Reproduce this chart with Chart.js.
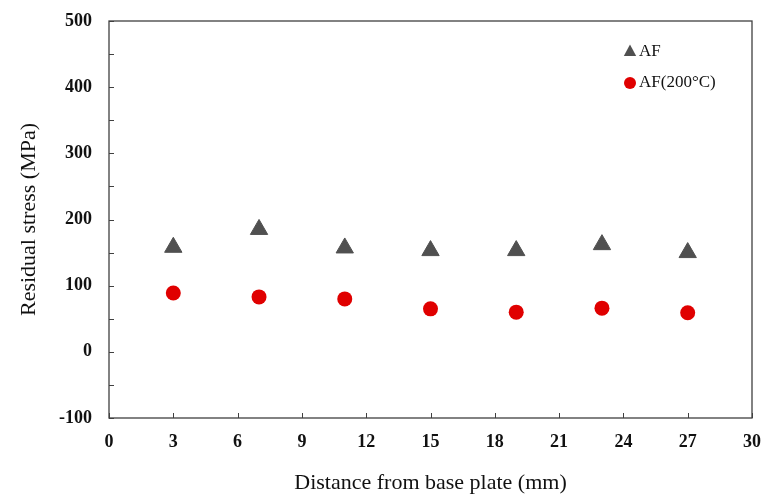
<!DOCTYPE html>
<html>
<head>
<meta charset="utf-8">
<script src="https://cdn.jsdelivr.net/npm/chart.js@4/dist/chart.umd.min.js"></script>
<style>
  html, body { margin: 0; padding: 0; background: #fff; }
  #wrap { width: 765px; height: 496px; position: relative; }
</style>
</head>
<body>
<div id="wrap"><canvas id="c" width="765" height="496"></canvas></div>
<script>
const distances = [3, 7, 11, 15, 19, 23, 27];
const afValues = [158, 185, 157, 153, 153, 162, 150];
const af200Values = [89, 83, 80, 65, 60, 66, 59];
const seriesNames = ['AF', 'AF(200°C)'];
const xTitle = 'Distance from base plate (mm)';
const yTitle = 'Residual stress (MPa)';
const xTicks = [0, 3, 6, 9, 12, 15, 18, 21, 24, 27, 30];
const yTicks = [-100, -50, 0, 50, 100, 150, 200, 250, 300, 350, 400, 450, 500];

const SERIF = '"Liberation Serif", "Times New Roman", serif';
const AXIS = '#404040';

const framePlugin = {
  id: 'frame',
  afterDraw(chart) {
    const { ctx, chartArea: a, scales } = chart;
    ctx.save();
    ctx.strokeStyle = AXIS;
    ctx.lineWidth = 1.3;
    ctx.strokeRect(a.left, a.top, a.right - a.left, a.bottom - a.top);
    ctx.lineWidth = 1;
    ctx.beginPath();
    yTicks.forEach(v => {
      const y = Math.round(scales.y.getPixelForValue(v)) + 0.5;
      ctx.moveTo(a.left, y); ctx.lineTo(a.left + 5, y);
    });
    xTicks.forEach(v => {
      const x = Math.round(scales.x.getPixelForValue(v)) + 0.5;
      ctx.moveTo(x, a.bottom); ctx.lineTo(x, a.bottom - 5);
    });
    ctx.stroke();

    // legend inside plot
    const items = chart.data.datasets;
    const lx = 630, ly0 = 51, gap = 31;
    items.forEach((ds, i) => {
      const y = ly0 + i * gap;
      ctx.fillStyle = ds.backgroundColor;
      ctx.beginPath();
      if (ds.pointStyle === 'triangle') {
        const r = 6.5;
        ctx.moveTo(lx, y - r);
        ctx.lineTo(lx + r * 0.95, y + r * 0.75);
        ctx.lineTo(lx - r * 0.95, y + r * 0.75);
        ctx.closePath();
      } else {
        ctx.arc(lx, y + 1, 6, 0, Math.PI * 2);
      }
      ctx.fill();
      ctx.fillStyle = '#111';
      ctx.font = '17px ' + SERIF;
      ctx.textBaseline = 'middle';
      ctx.textAlign = 'left';
      ctx.fillText(ds.label, lx + 9, y + 1);
    });
    ctx.restore();
  }
};

function noEdgePadding(s) {
  s.paddingTop = 0; s.paddingBottom = 0; s.paddingLeft = 0; s.paddingRight = 0;
}

new Chart(document.getElementById('c'), {
  type: 'scatter',
  data: {
    datasets: [
      {
        label: seriesNames[0],
        data: distances.map((d, i) => ({ x: d, y: afValues[i] })),
        pointStyle: 'triangle',
        pointRadius: 10,
        pointHoverRadius: 10,
        backgroundColor: '#505050',
        borderColor: '#505050',
        borderWidth: 1
      },
      {
        label: seriesNames[1],
        data: distances.map((d, i) => ({ x: d, y: af200Values[i] })),
        pointStyle: 'circle',
        pointRadius: 7.5,
        pointHoverRadius: 7.5,
        backgroundColor: '#E00000',
        borderColor: '#E00000',
        borderWidth: 0
      }
    ]
  },
  options: {
    responsive: false,
    animation: false,
    devicePixelRatio: 1,
    layout: { padding: { left: 16, right: 13, top: 21, bottom: 0 } },
    plugins: { legend: { display: false }, tooltip: { enabled: false } },
    scales: {
      x: {
        type: 'linear',
        min: 0, max: 30,
        afterBuildTicks(s) { s.ticks = xTicks.map(v => ({ value: v })); },
        afterFit(s) { s.height = 78; noEdgePadding(s); },
        grid: { display: false, drawTicks: false },
        border: { display: false },
        ticks: {
          color: '#111',
          padding: 14,
          font: { family: SERIF, size: 18, weight: 'bold' },
          maxRotation: 0
        },
        title: {
          display: true,
          text: xTitle,
          color: '#111',
          font: { family: SERIF, size: 22 },
          padding: { top: 10, bottom: 0 }
        }
      },
      y: {
        type: 'linear',
        min: -100, max: 500,
        afterBuildTicks(s) { s.ticks = yTicks.map(v => ({ value: v })); },
        afterFit(s) { s.width = 93; noEdgePadding(s); },
        grid: { display: false, drawTicks: false },
        border: { display: false },
        ticks: {
          color: '#111',
          padding: 17,
          font: { family: SERIF, size: 18, weight: 'bold' },
          callback: v => (v % 100 === 0 ? String(v) : null)
        },
        title: {
          display: true,
          text: yTitle,
          color: '#111',
          font: { family: SERIF, size: 22 },
          padding: { top: 0, bottom: 0 }
        }
      }
    }
  },
  plugins: [framePlugin]
});
</script>
</body>
</html>
